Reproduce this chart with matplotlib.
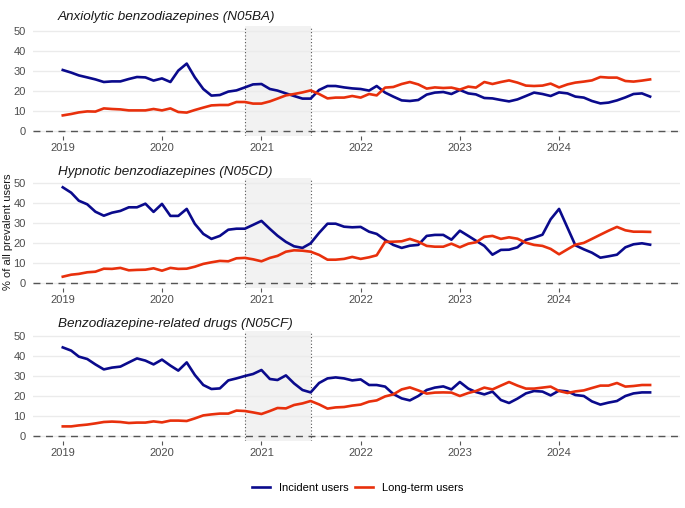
import pandas as pd
import matplotlib
matplotlib.use("Agg")
import matplotlib.pyplot as plt
import matplotlib.dates as mdates

plt.rcParams['font.family'] = ['Liberation Sans', 'DejaVu Sans']

months = pd.date_range("2019-01-01", "2024-12-01", freq="MS")
year_ticks = pd.date_range("2019-01-01", "2024-01-01", freq="YS")

titles = ["Anxiolytic benzodiazepines (N05BA)",
          "Hypnotic benzodiazepines (N05CD)",
          "Benzodiazepine-related drugs (N05CF)"]

# N05BA
n05ba_incident = [30.5, 29.2, 27.8, 26.8, 25.8, 24.5, 24.8, 24.8, 26.0, 27.0, 26.8, 25.2,
                  26.3, 24.5, 30.2, 33.7, 26.8, 21.0, 17.7, 18.0, 19.7, 20.3, 21.8, 23.3,
                  23.5, 21.0, 20.2, 18.8, 17.5, 16.2, 16.2, 20.5, 22.5, 22.5, 21.8, 21.3,
                  21.0, 20.2, 22.5, 19.2, 17.2, 15.3, 15.0, 15.5, 18.2, 19.2, 19.5, 18.5,
                  20.5, 18.8, 18.3, 16.5, 16.3, 15.5, 14.8, 15.8, 17.5, 19.2, 18.5, 17.5,
                  19.3, 18.8, 17.2, 16.7, 15.0, 13.8, 14.2, 15.3, 16.8, 18.5, 18.8, 17.2]
n05ba_longterm = [7.8, 8.5, 9.3, 9.8, 9.7, 11.3, 11.0, 10.8, 10.3, 10.3, 10.3, 11.0,
                  10.3, 11.3, 9.5, 9.2, 10.5, 11.7, 12.8, 13.0, 13.0, 14.5, 14.5, 13.7,
                  13.7, 14.8, 16.2, 17.8, 18.5, 19.3, 20.3, 18.5, 16.3, 16.7, 16.7, 17.5,
                  16.7, 18.5, 17.8, 21.7, 22.0, 23.5, 24.5, 23.3, 21.2, 21.8, 21.5, 21.7,
                  20.7, 22.2, 21.7, 24.5, 23.5, 24.5, 25.3, 24.2, 22.7, 22.5, 22.7, 23.7,
                  21.8, 23.3, 24.2, 24.7, 25.3, 27.0, 26.7, 26.7, 25.0, 24.7, 25.2, 25.8]

# N05CD
n05cd_incident = [48.0, 45.3, 41.3, 39.5, 35.8, 33.8, 35.3, 36.2, 38.0, 38.0, 39.8, 35.7,
                  39.7, 33.7, 33.7, 37.2, 29.7, 24.7, 22.2, 23.7, 26.8, 27.3, 27.3, 29.2,
                  31.2, 27.2, 23.8, 20.7, 18.5, 17.7, 20.0, 25.2, 29.8, 29.8, 28.3, 28.0,
                  28.2, 25.8, 24.7, 21.7, 19.2, 17.7, 18.8, 19.2, 23.7, 24.2, 24.2, 21.8,
                  26.3, 23.7, 21.3, 18.7, 14.3, 16.7, 16.8, 18.0, 21.7, 22.8, 24.3, 32.0,
                  37.2, 27.8, 19.0, 17.0, 15.3, 12.8, 13.5, 14.3, 18.0, 19.5, 20.0, 19.3]
n05cd_longterm = [3.3, 4.3, 4.7, 5.5, 5.8, 7.3, 7.2, 7.7, 6.5, 6.7, 6.8, 7.5,
                  6.3, 7.7, 7.2, 7.3, 8.3, 9.7, 10.5, 11.2, 11.0, 12.5, 12.7, 12.0,
                  11.0, 12.7, 13.7, 15.8, 16.5, 16.3, 15.8, 14.2, 11.8, 11.8, 12.2, 13.2,
                  12.2, 13.0, 14.0, 20.7, 20.8, 21.0, 22.2, 20.8, 18.7, 18.3, 18.3, 19.8,
                  18.0, 19.8, 20.5, 23.2, 23.7, 22.2, 23.0, 22.3, 20.3, 19.2, 18.7, 17.2,
                  14.5, 17.0, 19.3, 20.2, 22.2, 24.3, 26.3, 28.2, 26.5, 25.8, 25.8, 25.7]

# N05CF
n05cf_incident = [44.3, 42.7, 39.7, 38.5, 35.8, 33.3, 34.2, 34.7, 36.8, 38.8, 37.7, 35.8,
                  38.2, 35.2, 32.7, 36.8, 30.5, 25.5, 23.5, 23.8, 27.8, 28.8, 30.0, 31.0,
                  33.0, 28.5, 28.0, 30.3, 26.3, 23.0, 21.8, 26.5, 28.8, 29.3, 28.8, 27.8,
                  28.3, 25.5, 25.5, 24.7, 21.0, 18.8, 17.8, 20.0, 23.0, 24.2, 24.8, 23.3,
                  27.0, 23.7, 22.0, 20.8, 22.2, 18.0, 16.5, 18.7, 21.3, 22.5, 22.2, 20.3,
                  22.7, 22.3, 20.5, 20.0, 17.3, 15.7, 16.7, 17.5, 20.0, 21.3, 21.8, 21.8]
n05cf_longterm = [4.8, 4.8, 5.3, 5.7, 6.3, 7.0, 7.2, 7.0, 6.5, 6.7, 6.7, 7.3,
                  6.8, 7.7, 7.7, 7.5, 8.8, 10.3, 10.8, 11.2, 11.2, 12.7, 12.5, 11.8,
                  11.0, 12.5, 14.0, 13.8, 15.5, 16.3, 17.5, 15.8, 13.7, 14.3, 14.5, 15.2,
                  15.7, 17.2, 17.8, 19.8, 20.8, 23.3, 24.3, 22.8, 21.2, 21.7, 21.8, 21.7,
                  20.0, 21.5, 22.5, 24.2, 23.3, 25.2, 27.0, 25.2, 23.7, 23.7, 24.2, 24.7,
                  22.5, 21.5, 22.3, 22.8, 24.0, 25.2, 25.2, 26.5, 24.7, 25.0, 25.5, 25.5]

incident = [n05ba_incident, n05cd_incident, n05cf_incident]
longterm = [n05ba_longterm, n05cd_longterm, n05cf_longterm]

shade_start = pd.Timestamp("2020-11-01")
shade_end = pd.Timestamp("2021-07-01")

blue = "#0A0A8C"
red = "#E8300C"

fig = plt.figure(figsize=(6.85, 5.08), dpi=100)

# panel positions in figure fraction
panel_bottoms = [0.7323, 0.4325, 0.1319]
panel_h = 0.2165
left, width = 0.048, 0.9447
title_y = [1 - 17 / 508, 1 - 172 / 508, 1 - 324 / 508]

xmin = pd.Timestamp("2019-01-01") - pd.Timedelta(days=110)
xmax = pd.Timestamp("2024-12-01") + pd.Timedelta(days=110)

for i in range(3):
    ax = fig.add_axes([left, panel_bottoms[i], width, panel_h])
    ax.axvspan(shade_start, shade_end, color="#F2F2F2", zorder=0, lw=0)
    for d in (shade_start, shade_end):
        ax.axvline(d, color="#555555", ls=(0, (1, 2)), lw=0.8, zorder=1)
    ax.axhline(0, color="#555555", ls=(0, (5, 4)), lw=1.0, zorder=2)
    l1, = ax.plot(months, incident[i], color=blue, lw=1.9, label="Incident users", zorder=3)
    l2, = ax.plot(months, longterm[i], color=red, lw=1.9, label="Long-term users", zorder=3)

    ax.set_xlim(xmin, xmax)
    ax.set_ylim(-2.5, 52.5)
    ax.set_yticks([0, 10, 20, 30, 40, 50])
    ax.set_xticks(year_ticks)
    ax.xaxis.set_major_formatter(mdates.DateFormatter("%Y"))
    ax.grid(axis="y", color="#EBEBEB", lw=1.0, zorder=0)
    ax.set_axisbelow(True)
    for s in ax.spines.values():
        s.set_visible(False)
    ax.tick_params(axis="x", length=3, width=0.8, color="#555555",
                   labelsize=8, labelcolor="#4D4D4D", pad=2)
    ax.tick_params(axis="y", length=0, labelsize=8, labelcolor="#4D4D4D", pad=5)
    fig.text(58 / 685, title_y[i], titles[i], fontsize=9.7, style="italic",
             ha="left", va="center", color="#1A1A1A")

fig.text(8 / 685, 1 - 232 / 508, "% of all prevalent users", rotation=90,
         fontsize=8, ha="center", va="center", color="#1A1A1A")

fig.legend(handles=[l1, l2], loc="center", bbox_to_anchor=(0.522, 1 - 488 / 508),
           ncol=2, frameon=False, fontsize=8, handlelength=1.6, columnspacing=0.6,
           handletextpad=0.8)

plt.savefig("out.png", dpi=100)
